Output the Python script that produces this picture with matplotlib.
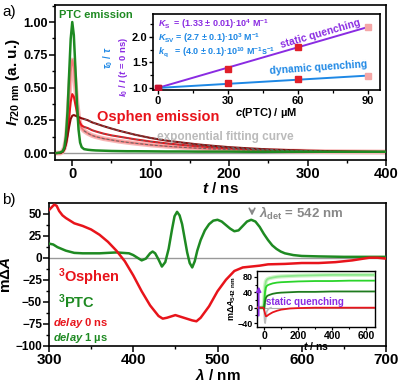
import matplotlib
matplotlib.use("Agg")
import matplotlib.pyplot as plt
from matplotlib.ticker import MultipleLocator

plt.rcParams['font.family'] = ['Liberation Sans', 'DejaVu Sans']
plt.rcParams['font.weight'] = 'bold'
plt.rcParams['mathtext.fontset'] = 'custom'
plt.rcParams['mathtext.rm'] = 'Liberation Sans:bold'
plt.rcParams['mathtext.it'] = 'Liberation Sans:italic:bold'
plt.rcParams['mathtext.bf'] = 'Liberation Sans:bold'
plt.rcParams['axes.linewidth'] = 1.2

# ---------------- Panel a data ----------------
t_a = [-20, -15, -12, -10, -8, -6, -4, -2, 0, 2, 4, 6, 8, 10, 12, 15, 20, 25, 30, 40, 50, 60, 70, 80,
       100, 120, 140, 160, 180, 200, 225, 250, 275, 300, 325, 350, 375, 400]
ptc_em = [0.0, 0.005, 0.015, 0.045, 0.13, 0.32, 0.6, 0.87, 1.0, 0.9, 0.65, 0.38, 0.18, 0.08, 0.045, 0.03,
          0.025, 0.022, 0.02, 0.018, 0.016, 0.015, 0.014, 0.014, 0.013, 0.012, 0.012, 0.011, 0.011, 0.011,
          0.01, 0.01, 0.01, 0.01, 0.01, 0.01, 0.01, 0.01]
osph_hi = [0.0, 0.0, 0.015, 0.04, 0.1, 0.22, 0.42, 0.62, 0.71, 0.66, 0.52, 0.38, 0.28, 0.22, 0.19, 0.17,
           0.15, 0.135, 0.125, 0.11, 0.1, 0.09, 0.082, 0.075, 0.062, 0.052, 0.044, 0.037, 0.031, 0.027,
           0.022, 0.018, 0.015, 0.013, 0.011, 0.01, 0.009, 0.008]
osph_mid = [0.0, 0.0, 0.01, 0.03, 0.07, 0.15, 0.27, 0.39, 0.45, 0.43, 0.37, 0.31, 0.26, 0.23, 0.21, 0.2,
            0.19, 0.175, 0.165, 0.148, 0.135, 0.125, 0.115, 0.105, 0.088, 0.074, 0.062, 0.052, 0.043, 0.036,
            0.029, 0.023, 0.019, 0.015, 0.012, 0.01, 0.009, 0.008]
osph_lo = [0.0, 0.0, 0.01, 0.03, 0.07, 0.13, 0.2, 0.26, 0.285, 0.29, 0.285, 0.28, 0.275, 0.27, 0.265, 0.26,
           0.25, 0.235, 0.225, 0.205, 0.187, 0.17, 0.155, 0.14, 0.115, 0.095, 0.08, 0.066, 0.055, 0.045,
           0.036, 0.028, 0.023, 0.018, 0.015, 0.012, 0.01, 0.009]

# inset a
c_ptc = [0, 30, 60, 90]
I0_I = [1.0, 1.38, 1.80, 2.20]
tau0_tau = [1.0, 1.09, 1.17, 1.23]
fit_c = [0, 90]
fit_static = [1.0, 2.197]
fit_dynamic = [1.0, 1.243]

# ---------------- Panel b data ----------------
lam_r = [300, 303, 306, 309, 312, 316, 320, 330, 340, 350, 360, 370, 380, 390, 400, 410, 420, 430, 435,
         440, 450, 460, 470, 475, 480, 490, 500, 510, 520, 530, 540, 550, 560, 580, 600, 620, 640, 660,
         670, 680, 690, 700]
osphen_0ns = [54, 57, 60, 59, 53, 48, 45, 39, 36, 32, 26, 18, 8, -4, -20, -38, -54, -66, -69,
              -68, -65, -68, -71, -72, -68, -55, -38, -25, -15, -11, -10, -9, -7.5, -7, -6, -6, -5, -3,
              -1.5, 0, 0, -1]
lam_g = [300, 305, 310, 320, 330, 340, 360, 380, 395, 400, 405, 410, 415, 420, 423, 426, 430, 434, 438,
         442, 446, 449, 452, 455, 458, 461, 464, 467, 470, 473, 476, 480, 485, 490, 495, 500, 505, 510,
         515, 520, 525, 530, 535, 540, 545, 550, 555, 560, 565, 570, 575, 580, 590, 600, 620, 650, 680, 700]
ptc_1us = [16, 15, 12, 8, 5.5, 5, 5, 6, 5, 3, 0, -3, -1, 5, 7, 5, -2, -10, -5,
           10, 32, 47, 52, 48, 38, 22, 6, -6, -11, -4, 8, 20, 31, 38, 42, 43, 41, 37,
           33, 30, 31, 36, 41, 43, 41, 35, 27, 20, 14, 10, 7, 5, 3, 2, 1.5, 1, 1, 1]

# inset b
t_b = [-40, -20, -5, 0, 5, 10, 15, 20, 30, 50, 75, 100, 150, 200, 300, 400, 500, 600, 650]
kin_red = [0, 0, 0, -5, -15, -22, -22, -20, -17, -12, -8, -5, -2, -1, 0, 0, 0, 0, 0]
kin_dgreen = [0, 0, 0, -5, 15, 25, 29, 31, 33, 36, 38, 39, 40, 41, 41, 42, 42, 42, 42]
kin_green = [0, 0, 0, 10, 40, 52, 56, 58, 60, 63, 65, 66, 67, 68, 69, 69, 70, 70, 70]
kin_lgreen = [0, 0, 0, 15, 55, 68, 72, 74, 76, 78, 80, 81, 82, 83, 84, 85, 85, 85, 85]
t_gray = [-40, -5, 0, 3, 6, 10, 15, 25, 40]
kin_gray = [0, 0, -10, -35, -40, -25, -10, -3, 0]

W, H = 400, 382


def fx(x):
    return x / W


def fy(y):
    return 1 - y / H


GREEN = '#1E8A22'
RED = '#E8141B'
PINK = '#F07878'
DRED = '#8B0A0A'
PURPLE = '#8A2BE2'
BLUE = '#1E88E5'

fig = plt.figure(figsize=(4, 3.82), dpi=100)

# ================= Panel a =================
axa = fig.add_axes([fx(55), fy(160), fx(386) - fx(55), fy(5) - fy(160)])
axa.axhline(0, color='#999999', lw=1.0, zorder=1)
axa.plot(t_a, osph_hi, color='#F8B8B8', lw=3.5, zorder=2)
axa.plot(t_a, osph_hi, color=PINK, lw=1.4, zorder=3)
axa.plot(t_a, osph_mid, color=RED, lw=1.5, zorder=3)
axa.plot(t_a, osph_lo, color=DRED, lw=1.5, zorder=3)
n0 = t_a.index(15)
for ys in (osph_hi, osph_mid, osph_lo):
    axa.plot(t_a[n0:], ys[n0:], color='#666666', lw=0.7, ls=(0, (3, 2)), zorder=4)
axa.plot(t_a, ptc_em, color=GREEN, lw=1.8, zorder=5)
axa.set_xlim(-22, 400)
axa.set_ylim(-0.053, 1.13)
axa.set_xticks([0, 100, 200, 300, 400])
axa.xaxis.set_minor_locator(MultipleLocator(50))
axa.set_yticks([0, 0.25, 0.5, 0.75, 1.0])
axa.set_yticklabels(['0.00', '0.25', '0.50', '0.75', '1.00'])
axa.yaxis.set_minor_locator(MultipleLocator(0.125))
axa.tick_params(axis='x', labelsize=10.5, width=1.1, length=4, pad=1)
axa.tick_params(axis='y', labelsize=9, width=1.1, length=4, pad=1)
axa.tick_params(which='minor', width=1.0, length=2.5)
axa.set_xlabel(r'$t$ / ns', fontsize=11, fontweight='bold', labelpad=0)
axa.set_ylabel(r'$I_{\mathrm{720\ nm}}$ (a. u.)', fontsize=11, fontweight='bold', labelpad=1)
axa.text(fx(59), fy(15), 'PTC emission', transform=fig.transFigure, color=GREEN, fontsize=8,
         fontweight='bold', va='center', ha='left')
axa.text(fx(97), fy(117), 'Osphen emission', transform=fig.transFigure, color=RED, fontsize=10.5,
         fontweight='bold', va='center', ha='left')
axa.text(fx(157), fy(137), 'exponential fitting curve', transform=fig.transFigure, color='#BBBBBB',
         fontsize=8.5, fontweight='bold', va='center', ha='left')
fig.text(fx(2), fy(12), 'a)', fontsize=11, fontweight='normal', va='center', ha='left')

# ---- inset a ----
ia = fig.add_axes([fx(153), fy(90), fx(380) - fx(153), fy(14) - fy(90)])
ia.plot(fit_c, fit_static, color=PURPLE, lw=1.4, zorder=2)
ia.plot(fit_c, fit_dynamic, color=BLUE, lw=1.4, zorder=2)
pt_cols = ['#C8102E', '#E0202A', '#E0202A', '#F4A6A6']
for c, a, b, col in zip(c_ptc, I0_I, tau0_tau, pt_cols):
    ia.plot([c], [a], 's', color=col, ms=5, zorder=3)
    ia.plot([c], [b], 's', color=col, ms=5, zorder=3)
ia.set_xlim(-2, 95)
ia.set_ylim(0.96, 2.45)
ia.set_xticks([0, 30, 60, 90])
ia.xaxis.set_minor_locator(MultipleLocator(15))
ia.set_yticks([1.0, 1.5, 2.0])
ia.yaxis.set_minor_locator(MultipleLocator(0.25))
ia.tick_params(labelsize=8, width=1.0, length=3, pad=1)
ia.tick_params(which='minor', width=0.9, length=2)
ia.set_xlabel(r'$c$(PTC) / µM', fontsize=8, fontweight='bold', labelpad=0)
fig.text(fx(108), fy(58), r'$\tau_0\ /\ \tau$', color=BLUE, fontsize=7, rotation=90,
         va='center', ha='center')
fig.text(fx(123), fy(67), r'$I_0$ / $I$ ($t$ = 0 ns)', color=PURPLE, fontsize=6.8, rotation=90,
         va='center', ha='center')
fig.text(fx(158), fy(24), r'$K_\mathrm{S}$  = (1.33 ± 0.01)·10$^4$ M$^{-1}$', color=PURPLE, fontsize=6.5,
         va='center', ha='left')
fig.text(fx(158), fy(38), r'$K_\mathrm{SV}$ = (2.7 ± 0.1)·10$^3$ M$^{-1}$', color=BLUE, fontsize=6.5,
         va='center', ha='left')
fig.text(fx(158), fy(52), r'$k_\mathrm{q}$   = (4.0 ± 0.1)·10$^{10}$ M$^{-1}$s$^{-1}$', color=BLUE,
         fontsize=6.5, va='center', ha='left')
fig.text(fx(320), fy(34), 'static quenching', color=PURPLE, fontsize=7.5, rotation=16,
         va='center', ha='center')
fig.text(fx(318), fy(68), 'dynamic quenching', color=BLUE, fontsize=7.5, rotation=4,
         va='center', ha='center')

# ================= Panel b =================
axb = fig.add_axes([fx(49), fy(346), fx(386) - fx(49), fy(203) - fy(346)])
axb.axhline(0, color='#999999', lw=1.0, zorder=1)
axb.plot(lam_g, ptc_1us, color=GREEN, lw=1.8, zorder=3)
axb.plot(lam_r, osphen_0ns, color=RED, lw=1.8, zorder=3)
axb.set_xlim(300, 700)
axb.set_ylim(-100, 62)
axb.set_xticks([300, 400, 500, 600, 700])
axb.xaxis.set_minor_locator(MultipleLocator(50))
axb.set_yticks([50, 25, 0, -25, -50, -75, -100])
axb.yaxis.set_minor_locator(MultipleLocator(12.5))
axb.tick_params(axis='x', labelsize=11, width=1.1, length=4, pad=1)
axb.tick_params(axis='y', labelsize=8.5, width=1.1, length=4, pad=1)
axb.tick_params(which='minor', width=1.0, length=2.5)
axb.set_xlabel(r'$\lambda$ / nm', fontsize=11, fontweight='bold', labelpad=0)
axb.set_ylabel(r'm$\Delta A$', fontsize=11, fontweight='bold', labelpad=2)
fig.text(fx(2), fy(200), 'b)', fontsize=11, fontweight='normal', va='center', ha='left')
fig.text(fx(58), fy(277), r'$^\mathbf{3}$Osphen', color=RED, fontsize=10.5, va='center', ha='left')
fig.text(fx(58), fy(302), r'$^\mathbf{3}$PTC', color=GREEN, fontsize=10.5, va='center', ha='left')
fig.text(fx(53), fy(323), r'$delay$ 0 ns', color=RED, fontsize=8, va='center', ha='left')
fig.text(fx(53), fy(338), r'$delay$ 1 µs', color=GREEN, fontsize=8, va='center', ha='left')
axb.annotate('', xy=(541, 44.5), xytext=(541, 57), arrowprops=dict(arrowstyle='->', color='#888888',
             lw=1.2))
fig.text(fx(259), fy(213), r'$\lambda_\mathrm{det}$ = 542 nm', color='#888888', fontsize=9.5,
         va='center', ha='left')

# ---- inset b ----
ib = fig.add_axes([fx(257), fy(327), fx(375) - fx(257), fy(271) - fy(327)])
ib.axhline(0, color='#AAAAAA', lw=0.8, zorder=1)
ib.plot(t_gray, kin_gray, color='#BBBBBB', lw=1.2, zorder=2)
ib.plot(t_b, kin_lgreen, color='#D0F5C8', lw=3, zorder=2)
ib.plot(t_b, kin_lgreen, color='#8CE88C', lw=1.3, zorder=3)
ib.plot(t_b, kin_green, color='#2BD42B', lw=1.3, zorder=3)
ib.plot(t_b, kin_dgreen, color='#1E7B1E', lw=1.3, zorder=3)
ib.plot(t_b, kin_red, color=RED, lw=1.3, zorder=3)
ib.annotate('', xy=(-32, 62), xytext=(-32, -28), arrowprops=dict(arrowstyle='-|>', color=PURPLE,
            lw=1.2, mutation_scale=7))
ib.text(fx(266), fy(302), 'static quenching', transform=fig.transFigure, color=PURPLE, fontsize=7,
        va='center', ha='left')
ib.set_xlim(-42, 650)
ib.set_ylim(-50, 95)
ib.set_xticks([0, 200, 400, 600])
ib.xaxis.set_minor_locator(MultipleLocator(100))
ib.set_yticks([-40, 0, 40, 80])
ib.yaxis.set_minor_locator(MultipleLocator(20))
ib.tick_params(axis='x', labelsize=7.5, width=0.9, length=2.5, pad=0.5)
ib.tick_params(axis='y', labelsize=6.5, width=0.9, length=2.5, pad=0.5)
ib.tick_params(which='minor', width=0.8, length=1.5)
for s in ib.spines.values():
    s.set_linewidth(1.0)
ib.set_xlabel(r'$t$ / ns', fontsize=7.5, fontweight='bold', labelpad=-1)
ib.set_ylabel(r'm$\Delta A_{\mathrm{542\ nm}}$', fontsize=6.5, fontweight='bold', labelpad=0)

fig.savefig('out.png', dpi=100)
